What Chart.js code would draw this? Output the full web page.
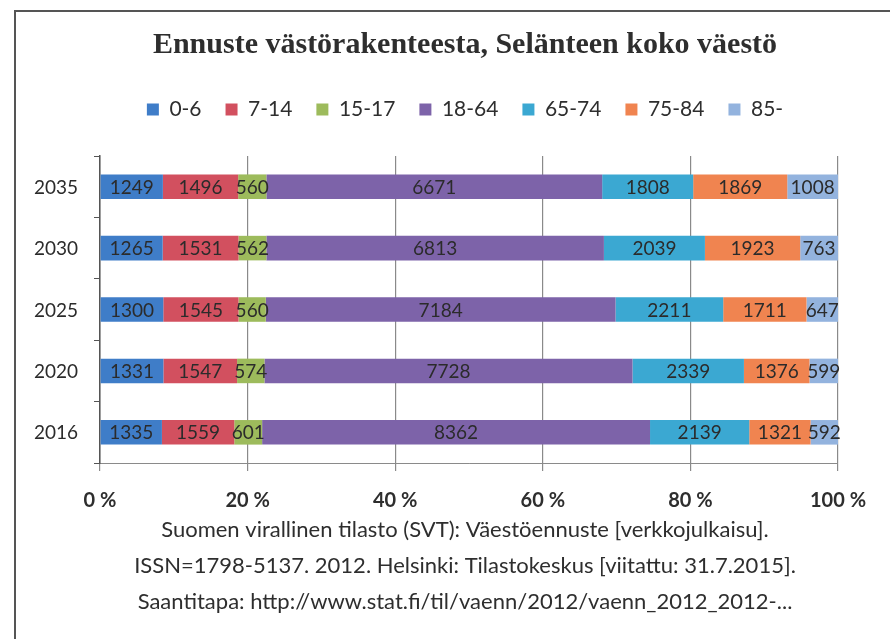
<!DOCTYPE html>
<html>
<head>
<meta charset="utf-8">
<script src="https://cdn.jsdelivr.net/npm/chart.js@4/dist/chart.umd.min.js"></script>
<style>
  html, body { margin: 0; padding: 0; background: #fff; }
  #wrap { position: relative; width: 890px; height: 639px; overflow: hidden; }
  #frame { position: absolute; left: 14px; top: 10px; width: 900px; height: 660px;
           border-left: 2px solid #555; border-top: 2px solid #555; }
  #c { position: absolute; left: 0; top: 0; }
</style>
</head>
<body>
<div id="wrap">
  <div id="frame"></div>
  <canvas id="c" width="890" height="639"></canvas>
</div>
<script>
const years = ["2035", "2030", "2025", "2020", "2016"];
const groups = ["0-6", "7-14", "15-17", "18-64", "65-74", "75-84", "85-"];
const colors = ["#3f7dc8", "#d2505f", "#9dbb5c", "#7d63a9", "#3ba8d2", "#f08450", "#93b3de"];

const age0_6 = [1249, 1265, 1300, 1331, 1335];
const age7_14 = [1496, 1531, 1545, 1547, 1559];
const age15_17 = [560, 562, 560, 574, 601];
const age18_64 = [6671, 6813, 7184, 7728, 8362];
const age65_74 = [1808, 2039, 2211, 2339, 2139];
const age75_84 = [1869, 1923, 1711, 1376, 1321];
const age85 = [1008, 763, 647, 599, 592];

const series = [age0_6, age7_14, age15_17, age18_64, age65_74, age75_84, age85];
const totals = years.map((y, i) => series.reduce((s, arr) => s + arr[i], 0));

const footer = [
  "Suomen virallinen tilasto (SVT): Väestöennuste [verkkojulkaisu].",
  "ISSN=1798-5137. 2012. Helsinki: Tilastokeskus [viitattu: 31.7.2015].",
  "Saantitapa: http://www.stat.fi/til/vaenn/2012/vaenn_2012_2012-..."
];

// writes the raw numbers in the middle of each piece, and the year names
const valueLabels = {
  id: "valueLabels",
  afterDatasetsDraw(chart) {
    const ctx = chart.ctx;
    ctx.save();
    ctx.font = "19px Lato";
    ctx.fillStyle = "#2b2b2b";
    ctx.textAlign = "center";
    ctx.textBaseline = "middle";
    chart.data.datasets.forEach((ds, di) => {
      chart.getDatasetMeta(di).data.forEach((bar, i) => {
        ctx.fillText(String(series[di][i]), (bar.x + bar.base) / 2, bar.y + 1);
      });
    });
    // y labels drawn here so they can sit left of the narrow axis box
    const yScale = chart.scales.y;
    ctx.textAlign = "right";
    chart.data.labels.forEach((lab, i) => {
      ctx.fillText(lab, chart.chartArea.left - 22, yScale.getPixelForValue(i) + 1);
    });
    ctx.restore();
  }
};

// extra room under the legend
const legendGap = {
  id: "legendGap",
  beforeInit(chart) {
    const fit = chart.legend.fit;
    chart.legend.fit = function () {
      fit.call(this);
      this.height += 26;
    };
  }
};

new Chart(document.getElementById("c"), {
  type: "bar",
  data: {
    labels: years,
    datasets: groups.map((g, k) => ({
      label: g,
      data: series[k].map((v, i) => v / totals[i] * 100),
      backgroundColor: colors[k],
      borderWidth: 0,
      barPercentage: 0.4,
      categoryPercentage: 1
    }))
  },
  options: {
    indexAxis: "y",
    responsive: false,
    animation: false,
    layout: { padding: { left: 92, right: 52, top: 0, bottom: 19 } },
    plugins: {
      tooltip: { enabled: false },
      title: {
        display: true,
        text: "Ennuste västörakenteesta, Selänteen koko väestö",
        color: "#2e2e2e",
        font: { family: "Liberation Serif", size: 30, weight: "bold" },
        padding: { top: 27, bottom: 12 }
      },
      legend: {
        display: true,
        labels: {
          color: "#2e2e2e",
          font: { family: "Lato", size: 21 },
          boxWidth: 12,
          boxHeight: 12,
          padding: 24
        }
      },
      subtitle: {
        display: true,
        position: "bottom",
        text: footer,
        color: "#2e2e2e",
        font: { family: "Lato", size: 22, lineHeight: 1.636 },
        padding: { top: 3, bottom: 0 }
      }
    },
    scales: {
      x: {
        stacked: true,
        min: 0,
        max: 100,
        afterFit(scale) { scale.height -= 22; },
        ticks: {
          stepSize: 20,
          color: "#2e2e2e",
          font: { family: "Lato", size: 20, weight: "bold" },
          padding: 18,
          callback: v => v + " %"
        },
        grid: { color: "#8a8a8a", lineWidth: 1.2, tickLength: 8 },
        border: { color: "#8a8a8a" }
      },
      y: {
        stacked: true,
        afterFit(scale) { scale.width = 8; },
        ticks: { display: false },
        grid: { drawOnChartArea: false, offset: true, tickLength: 6, color: "#555" },
        border: { color: "#555", width: 1.5 }
      }
    }
  },
  plugins: [valueLabels, legendGap]
});
</script>
</body>
</html>
